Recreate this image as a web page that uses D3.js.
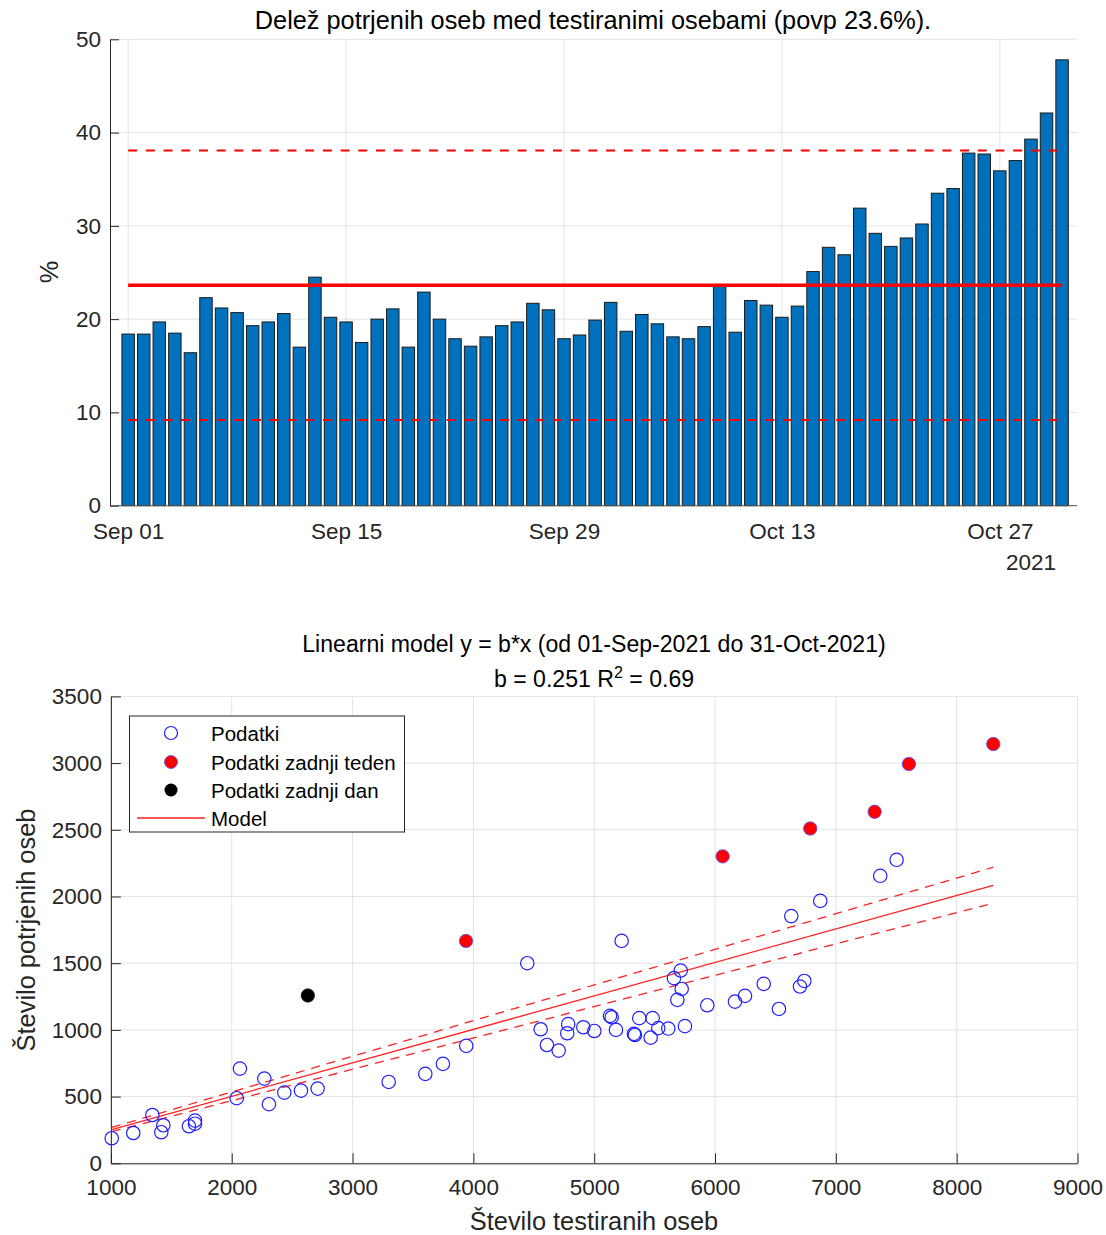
<!DOCTYPE html>
<html><head><meta charset="utf-8">
<script src="https://cdn.jsdelivr.net/npm/d3@7/dist/d3.min.js"></script>
<style>
body{margin:0;background:#fff;}
text{font-family:"Liberation Sans",Arial,Helvetica,sans-serif;}
</style>
</head><body>
<svg id="c" width="1106" height="1235"></svg>
<script>
// ---------- DATA ----------
const firstDay = "2021-09-01";
const lastDay = "2021-10-31";
const positivityPct = [
  18.4, 18.4, 19.7, 18.5, 16.4, 22.3, 21.2, 20.7, 19.3, 19.7, 20.6, 17.0, 24.5, 20.2, 19.7, 17.5, 20.0, 21.1, 17.0, 22.9, 20.0,
  17.9, 17.1, 18.1, 19.3, 19.7, 21.7, 21.0, 17.9, 18.3, 19.9, 21.8, 18.7, 20.5, 19.5, 18.1, 17.9, 19.2, 23.7, 18.6,
  22.0, 21.5, 20.2, 21.4, 25.1, 27.7, 26.9, 31.9, 29.2, 27.8, 28.7, 30.2, 33.5, 34.0, 37.8, 37.7, 35.9, 37.0, 39.3, 42.1, 47.8
];
const dateTickLabels = ["Sep 01", "Sep 15", "Sep 29", "Oct 13", "Oct 27"];
const yearLabel = "2021";
const pctTicks = [0, 10, 20, 30, 40, 50];

const blueTests = [1007,1185,1343,1434,1417,1646,1696,1696,2068,2041,2270,2308,2435,2573,2711,3299,3602,3748,3941,4446,
  4557,4609,4706,4777,4785,4910,5001,5131,5145,5180,5227,5329,5337,5373,5467,5484,5530,5613,5751,5660,
  5716,5724,5688,5936,6165,6248,6403,6529,6703,6739,6631,6871,7367,7503];
const bluePositives = [188,227,362,285,233,278,320,297,710,488,635,443,530,545,560,610,670,745,880,1500,
  1005,887,845,975,1043,1020,992,1105,1095,1000,1667,970,962,1088,942,1088,1013,1010,1028,1388,
  1445,1307,1225,1185,1212,1255,1345,1157,1325,1367,1853,1967,2155,2275];
const weekTests = [8303, 6063, 7321, 6788, 7605, 3939];
const weekPositives = [3143, 2301, 2635, 2510, 2993, 1667];
const dayTests = [2630];
const dayPositives = [1258];

const slopeB = 0.251, slopeLow = 0.2349, slopeHigh = 0.2673, rSquared = 0.69;
const testTicks = [1000, 2000, 3000, 4000, 5000, 6000, 7000, 8000, 9000];
const posTicks = [0, 500, 1000, 1500, 2000, 2500, 3000, 3500];
const legendLabels = ["Podatki", "Podatki zadnji teden", "Podatki zadnji dan", "Model"];

// ---------- SETUP ----------
const svg = d3.select("#c");
const axisCol = "#262626", gridCol = "#e3e3e3";
const tickFont = 22.5, titleFont = 25.3, title2Font = 23.1, labelFont = 25.4, legendFont = 20.5;

// ---------- TOP CHART ----------
const parse = d3.timeParse("%Y-%m-%d");
const days = d3.timeDay.range(parse(firstDay), d3.timeDay.offset(parse(lastDay), 1));
const x1 = d3.scaleTime()
  .domain([d3.timeHour.offset(days[0], -28), d3.timeHour.offset(days[days.length - 1], 23)])
  .range([110, 1077]);
const y1 = d3.scaleLinear().domain([0, 50]).range([505.7, 39.3]);
const g1 = svg.append("g");
const tickDates = dateTickLabels.map(s => d3.timeParse("%b %d %Y")(s + " " + yearLabel));

// grid
g1.selectAll(".gy").data(pctTicks).join("line")
  .attr("x1", 110).attr("x2", 1077).attr("y1", d => y1(d)).attr("y2", d => y1(d))
  .attr("stroke", gridCol).attr("stroke-width", 1);
g1.selectAll(".gx").data(tickDates).join("line")
  .attr("x1", d => x1(d)).attr("x2", d => x1(d)).attr("y1", y1(0)).attr("y2", y1(50))
  .attr("stroke", gridCol).attr("stroke-width", 1);

// bars
const step = x1(days[1]) - x1(days[0]);
const bw = step * 0.8;
g1.selectAll(".bar").data(positivityPct).join("rect")
  .attr("x", (d, i) => x1(days[i]) - bw / 2)
  .attr("y", d => y1(d))
  .attr("width", bw)
  .attr("height", d => y1(0) - y1(d))
  .attr("fill", "#0072BD").attr("stroke", "#1a1a1a").attr("stroke-width", 1);

// mean and band
const meanPct = d3.mean(positivityPct);
const sdPct = d3.deviation(positivityPct);
const xa = x1(days[0]), xb = x1(days[days.length - 1]);
g1.append("line").attr("x1", xa).attr("x2", xb).attr("y1", y1(meanPct)).attr("y2", y1(meanPct))
  .attr("stroke", "#ff0000").attr("stroke-width", 3.3);
[meanPct + 2 * sdPct, meanPct - 2 * sdPct].forEach(v => {
  g1.append("line").attr("x1", xa).attr("x2", xb).attr("y1", y1(v)).attr("y2", y1(v))
    .attr("stroke", "#ff0000").attr("stroke-width", 2).attr("stroke-dasharray", "9,8.7");
});

// axes
const ax1y = d3.axisLeft(y1).tickValues(pctTicks).tickSize(-9).tickSizeOuter(0).tickPadding(9);
g1.append("g").attr("transform", "translate(110,0)").call(ax1y)
  .call(g => { g.select(".domain").attr("stroke", axisCol);
    g.selectAll(".tick line").attr("stroke", axisCol);
    g.selectAll("text").attr("fill", axisCol).style("font-size", tickFont + "px"); });
const ax1x = d3.axisBottom(x1).tickValues(tickDates).tickFormat(d3.timeFormat("%b %d")).tickSize(0).tickPadding(17);
g1.append("g").attr("transform", `translate(0,${y1(0)})`).call(ax1x)
  .call(g => { g.select(".domain").attr("stroke", "#555").attr("d", `M110,0H1077`);
    g.selectAll("text").attr("fill", axisCol).style("font-size", tickFont + "px"); });
g1.append("text").attr("x", 1056).attr("y", 570).attr("text-anchor", "end")
  .attr("fill", axisCol).style("font-size", tickFont + "px").text(yearLabel);

g1.append("text").attr("transform", "translate(58,272) rotate(-90)").attr("text-anchor", "middle")
  .attr("fill", axisCol).style("font-size", labelFont + "px").text("%");
g1.append("text").attr("x", 593).attr("y", 29).attr("text-anchor", "middle")
  .attr("fill", "#000").style("font-size", titleFont + "px")
  .text(`Delež potrjenih oseb med testiranimi osebami (povp ${d3.format(".1f")(meanPct)}%).`);

// ---------- BOTTOM CHART ----------
const x2 = d3.scaleLinear().domain([1000, 9000]).range([110.9, 1077.5]);
const y2 = d3.scaleLinear().domain([0, 3500]).range([1163.3, 696.4]);
const g2 = svg.append("g");

g2.selectAll(".gy").data(posTicks).join("line")
  .attr("x1", x2(1000)).attr("x2", x2(9000)).attr("y1", d => y2(d)).attr("y2", d => y2(d))
  .attr("stroke", gridCol);
g2.selectAll(".gx").data(testTicks).join("line")
  .attr("x1", d => x2(d)).attr("x2", d => x2(d)).attr("y1", y2(0)).attr("y2", y2(3500))
  .attr("stroke", gridCol);

const ax2y = d3.axisLeft(y2).tickValues(posTicks).tickFormat(d3.format("d")).tickSize(-10).tickSizeOuter(0).tickPadding(9);
g2.append("g").attr("transform", `translate(${x2(1000)},0)`).call(ax2y)
  .call(g => { g.select(".domain").attr("stroke", axisCol);
    g.selectAll(".tick line").attr("stroke", axisCol);
    g.selectAll("text").attr("fill", axisCol).style("font-size", tickFont + "px"); });
const ax2x = d3.axisBottom(x2).tickValues(testTicks).tickFormat(d3.format("d")).tickSize(-10).tickSizeOuter(0).tickPadding(16);
g2.append("g").attr("transform", `translate(0,${y2(0)})`).call(ax2x)
  .call(g => { g.select(".domain").attr("stroke", axisCol);
    g.selectAll(".tick line").attr("stroke", axisCol);
    g.selectAll("text").attr("fill", axisCol).style("font-size", tickFont + "px"); });

// model lines
const allTests = blueTests.concat(weekTests, dayTests);
const xmin = d3.min(allTests), xmax = d3.max(allTests);
const line = d3.line().x(d => x2(d[0])).y(d => y2(d[1]));
g2.append("path").attr("d", line([[xmin, slopeB * xmin], [xmax, slopeB * xmax]]))
  .attr("stroke", "#ff2020").attr("stroke-width", 1.3).attr("fill", "none");
[slopeLow, slopeHigh].forEach(s => {
  g2.append("path").attr("d", line([[xmin, s * xmin], [xmax, s * xmax]]))
    .attr("stroke", "#ff2020").attr("stroke-width", 1.3).attr("fill", "none").attr("stroke-dasharray", "9,7");
});

// points
const r = 6.7;
g2.selectAll(".pb").data(blueTests).join("circle")
  .attr("cx", d => x2(d)).attr("cy", (d, i) => y2(bluePositives[i])).attr("r", r)
  .attr("fill", "none").attr("stroke", "#1f1fff").attr("stroke-width", 1.2);
g2.selectAll(".pw").data(weekTests).join("circle")
  .attr("cx", d => x2(d)).attr("cy", (d, i) => y2(weekPositives[i])).attr("r", r)
  .attr("fill", "#ff0000").attr("stroke", "#5050ff").attr("stroke-width", 0.8);
g2.selectAll(".pd").data(dayTests).join("circle")
  .attr("cx", d => x2(d)).attr("cy", (d, i) => y2(dayPositives[i])).attr("r", r)
  .attr("fill", "#000").attr("stroke", "#202040").attr("stroke-width", 0.8);

// legend
const lg = g2.append("g");
lg.append("rect").attr("x", 129.5).attr("y", 716).attr("width", 275).attr("height", 116)
  .attr("fill", "#fff").attr("stroke", "#262626").attr("stroke-width", 1);
const ly = [733, 762, 790, 818];
lg.append("circle").attr("cx", 171).attr("cy", ly[0]).attr("r", 6.5).attr("fill", "none").attr("stroke", "#1f1fff").attr("stroke-width", 1.2);
lg.append("circle").attr("cx", 171).attr("cy", ly[1]).attr("r", 6.5).attr("fill", "#ff0000").attr("stroke", "#5050ff").attr("stroke-width", 0.8);
lg.append("circle").attr("cx", 171).attr("cy", ly[2]).attr("r", 6.5).attr("fill", "#000");
lg.append("line").attr("x1", 137).attr("x2", 205).attr("y1", ly[3]).attr("y2", ly[3]).attr("stroke", "#ff2020").attr("stroke-width", 1.3);
lg.selectAll(".lt").data(legendLabels).join("text")
  .attr("x", 211).attr("y", (d, i) => ly[i] + 7.5)
  .attr("fill", "#000").style("font-size", legendFont + "px").text(d => d);

// titles and labels
const fmtDate = d3.timeFormat("%d-%b-%Y");
g2.append("text").attr("x", 594).attr("y", 652).attr("text-anchor", "middle")
  .attr("fill", "#000").style("font-size", title2Font + "px")
  .text(`Linearni model y = b*x (od ${fmtDate(parse(firstDay))} do ${fmtDate(parse(lastDay))})`);
const t2 = g2.append("text").attr("x", 594).attr("y", 687).attr("text-anchor", "middle")
  .attr("fill", "#000").style("font-size", title2Font + "px");
t2.append("tspan").text(`b = ${slopeB} R`);
t2.append("tspan").attr("dy", -9).style("font-size", "16px").text("2");
t2.append("tspan").attr("dy", 9).text(` = ${rSquared}`);

g2.append("text").attr("x", 594).attr("y", 1230).attr("text-anchor", "middle")
  .attr("fill", axisCol).style("font-size", labelFont + "px").text("Število testiranih oseb");
g2.append("text").attr("transform", "translate(35,930) rotate(-90)").attr("text-anchor", "middle")
  .attr("fill", axisCol).style("font-size", labelFont + "px").text("Število potrjenih oseb");
</script>
</body></html>
